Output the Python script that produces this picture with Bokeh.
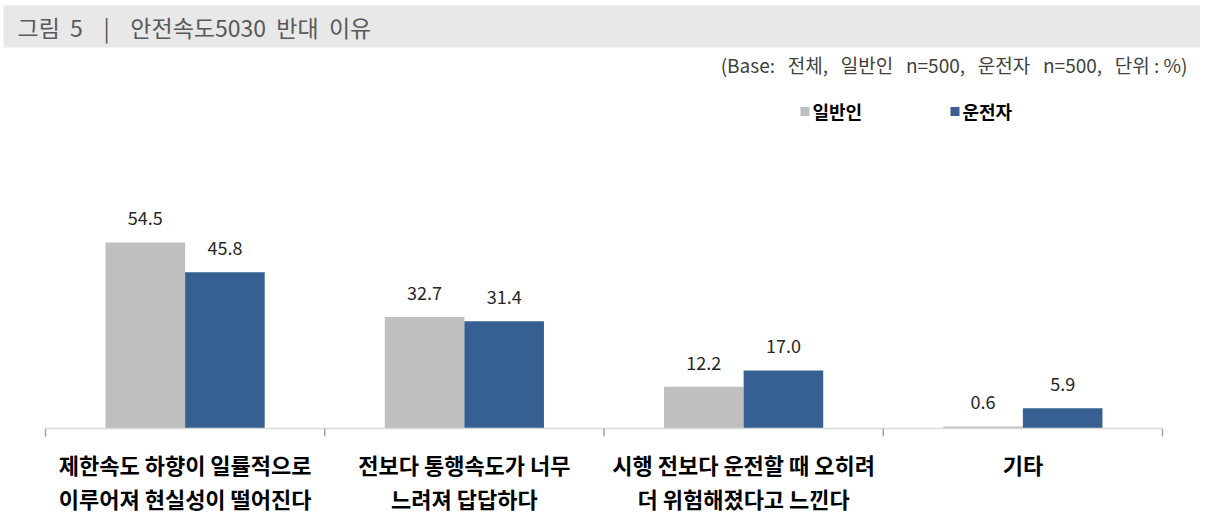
import numpy as np
from bokeh.plotting import figure
from bokeh.models import ColumnDataSource, Range1d, BoxAnnotation, Label
from bokeh.core.properties import value
from bokeh.embed import file_html
from bokeh.resources import INLINE

# data
categories = [
    "제한속도 하향이 일률적으로\n이루어져 현실성이 떨어진다",
    "전보다 통행속도가 너무\n느려져 답답하다",
    "시행 전보다 운전할 때 오히려\n더 위험해졌다고 느낀다",
    "기타",
]
general = [54.5, 32.7, 12.2, 0.6]
driver = [45.8, 31.4, 17.0, 5.9]
series_names = ["일반인", "운전자"]
title_text = "그림  5    |    안전속도5030  반대  이유"
base_text = "(Base:   전체,   일반인   n=500,   운전자   n=500,   단위 : %)"

FONT = "Noto Sans CJK KR"
GRAY = "#bfbfbf"
BLUE = "#376092"

W, H = 1200, 514
X0, CAT_W = 45, 279.25
Y0, PX_PER = 428, 3.413


def dx(px):
    return (px - X0) / CAT_W


def dy(py):
    return (Y0 - py) / PX_PER


def keep_spaces(s):
    return s.replace(" ", "\u00a0")


p = figure(
    width=W, height=H,
    x_range=Range1d(dx(0), dx(W)),
    y_range=Range1d(dy(H), dy(0)),
    output_backend="svg", toolbar_location=None,
    min_border=0, tools="",
)
p.axis.visible = False
p.grid.visible = False
p.outline_line_color = None
p.background_fill_color = "white"

# title bar
p.add_layout(BoxAnnotation(top=dy(5), bottom=dy(47), left=dx(3), fill_color="#e8e8e8",
                           fill_alpha=1, line_color=None, level="underlay"))
p.add_layout(Label(x=dx(17), y=dy(26), text=keep_spaces(title_text), text_font=FONT,
                   text_font_size="23px", text_color="#595959",
                   text_baseline="middle", text_align="left"))
p.add_layout(Label(x=dx(1187), y=dy(64), text=keep_spaces(base_text), text_font=FONT,
                   text_font_size="19px", text_color="#404040",
                   text_baseline="middle", text_align="right"))

# legend
for sx, color, name in [(800, GRAY, series_names[0]), (950, BLUE, series_names[1])]:
    p.rect(x=[dx(sx + 4.5)], y=[dy(111)], width=9 / CAT_W, height=9 / PX_PER,
           fill_color=color, line_color=None)
    p.add_layout(Label(x=dx(sx + 12), y=dy(110), text=name, text_font=FONT,
                       text_font_size="18px", text_font_style="bold",
                       text_color="#000000", text_baseline="middle"))

centers = np.arange(len(categories)) + 0.5
bar_w = 0.285
src = ColumnDataSource(dict(
    xg=centers - bar_w / 2, xd=centers + bar_w / 2,
    g=general, d=driver,
    gl=[f"{v:.1f}" for v in general], dl=[f"{v:.1f}" for v in driver],
))
p.vbar(x="xg", top="g", bottom=0, width=bar_w, source=src,
       fill_color=GRAY, line_color=None)
p.vbar(x="xd", top="d", bottom=0, width=bar_w, source=src,
       fill_color=BLUE, line_color=None)
for xc, yc, tc in [("xg", "g", "gl"), ("xd", "d", "dl")]:
    p.text(x=xc, y=yc, text=tc, source=src, text_font=value(FONT),
           text_font_size="18px", text_color="#262626", text_align="center",
           text_baseline="middle", y_offset=-24)

# axis line and ticks
n = len(categories)
p.segment(x0=[0], y0=[0], x1=[n], y1=[0], line_color="#d9d9d9", line_width=1.5)
edges = np.arange(n + 1)
p.segment(x0=edges, y0=[0] * (n + 1), x1=edges, y1=[dy(436)] * (n + 1),
          line_color="#a6a6a6", line_width=1.5)

# category labels
lines = [c.split("\n") for c in categories]
line1 = [l[0] for l in lines]
line2 = [l[1] if len(l) > 1 else "" for l in lines]
for txt, py in [(line1, 463), (line2, 497)]:
    p.text(x=centers, y=[dy(py)] * n, text=txt, text_font=value(FONT),
           text_font_size="22px", text_font_style="bold", text_color="#000000",
           text_align="center", text_baseline="middle")

open("out.html", "w").write(file_html(p, INLINE))
